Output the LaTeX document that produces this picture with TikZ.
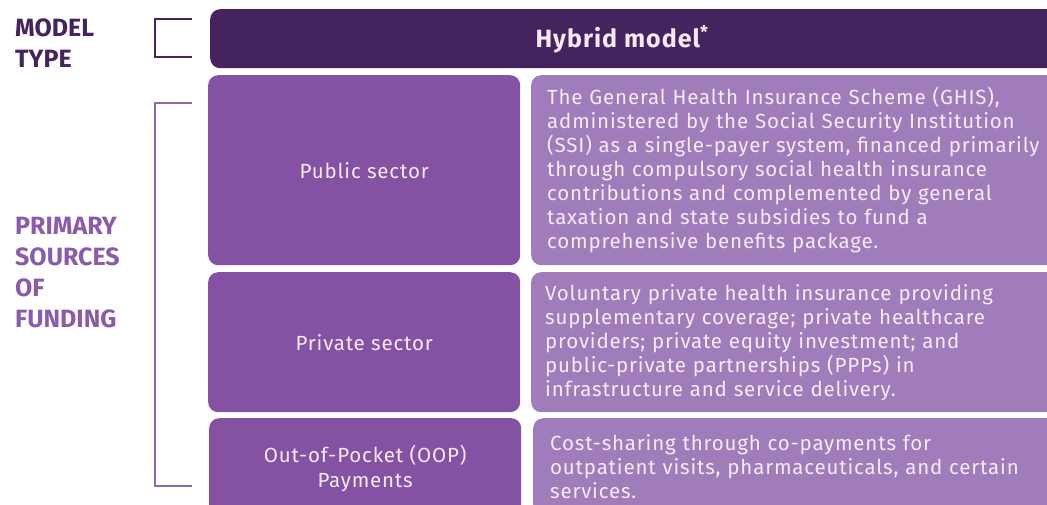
\documentclass[tikz,border=0pt]{standalone}
\usepackage{fontspec}
\setmainfont{Fira Sans}
\newfontfamily\spacedsans[LetterSpace=4]{Fira Sans}
\definecolor{hdrfill}{HTML}{45235F}
\definecolor{srcfill}{HTML}{8551A3}
\definecolor{descfill}{HTML}{A07CBB}
\definecolor{lighttext}{HTML}{F5EAF5}
\definecolor{typelabel}{HTML}{45235F}
\definecolor{fundlabel}{HTML}{8A5AAB}
\definecolor{fundbracket}{HTML}{8E6AAA}
\tikzset{
  sidelabel/.style={anchor=north west, inner sep=0pt, align=left,
    font=\fontsize{25}{31}\selectfont\bfseries},
  srcbox/.style={anchor=north west, fill=srcfill, rounded corners=10pt,
    minimum width=312pt, text=lighttext, align=center, inner sep=0pt,
    font=\spacedsans\fontsize{20.5}{25}\selectfont},
  descbox/.style={anchor=north west, fill=descfill, rounded corners=10pt,
    minimum width=530pt, text width=498pt, inner xsep=16pt, inner ysep=0pt,
    text=lighttext, align=left, font=\spacedsans\fontsize{20.5}{24}\selectfont},
  bracketline/.style={line width=1.3pt},
}
\begin{document}
\begin{tikzpicture}[x=1pt,y=-1pt]
\useasboundingbox (0,0) rectangle (1047,504);
\clip (0,0) rectangle (1047,504);

% side labels
\node[sidelabel, text=typelabel] (typelbl) at (15,19) {MODEL\\TYPE};
\node[sidelabel, text=fundlabel] (fundlbl) at (15,217) {PRIMARY\\SOURCES\\OF\\FUNDING};

% brackets
\draw[bracketline, draw=typelabel] (192,19) -| (155,57) -- (192,57);
\draw[bracketline, draw=fundbracket] (192,103) -| (155,486) -- (192,486);

% header bar
\node[anchor=north west, fill=hdrfill, rounded corners=10pt,
  minimum width=860pt, minimum height=59pt, inner sep=0pt] (hdr) at (210,9) {};
\node[text=lighttext, font=\spacedsans\fontsize{25}{29}\selectfont\bfseries] (hdrtxt) at (622,39)
  {Hybrid model\textsuperscript{*}};

% funding sources
\node[srcbox, minimum height=190pt] (pub) at (208,75) {Public sector};
\node[srcbox, minimum height=140pt] (priv) at (208,272) {Private sector};
\node[srcbox, minimum height=100pt] (oop) at (209,418) {Out-of-Pocket (OOP)\\Payments};

% descriptions
\node[descbox, minimum height=190pt] (pubd) at (531,75)
  {The General Health Insurance Scheme (GHIS),\\
   administered by the Social Security Institution\\
   (SSI) as a single-payer system, financed primarily\\
   through compulsory social health insurance\\
   contributions and complemented by general\\
   taxation and state subsidies to fund a\\
   comprehensive benefits package.};
\node[descbox, minimum height=140pt, text width=502pt, inner xsep=12pt] (privd) at (531,272)
  {Voluntary private health insurance providing\\
   supplementary coverage; private healthcare\\
   providers; private equity investment; and\\
   public-private partnerships (PPPs) in\\
   infrastructure and service delivery.};
\node[descbox, minimum height=96pt, text width=496pt, inner xsep=17pt] (oopd) at (533,418)
  {Cost-sharing through co-payments for\\
   outpatient visits, pharmaceuticals, and certain\\
   services.};
\end{tikzpicture}
\end{document}
